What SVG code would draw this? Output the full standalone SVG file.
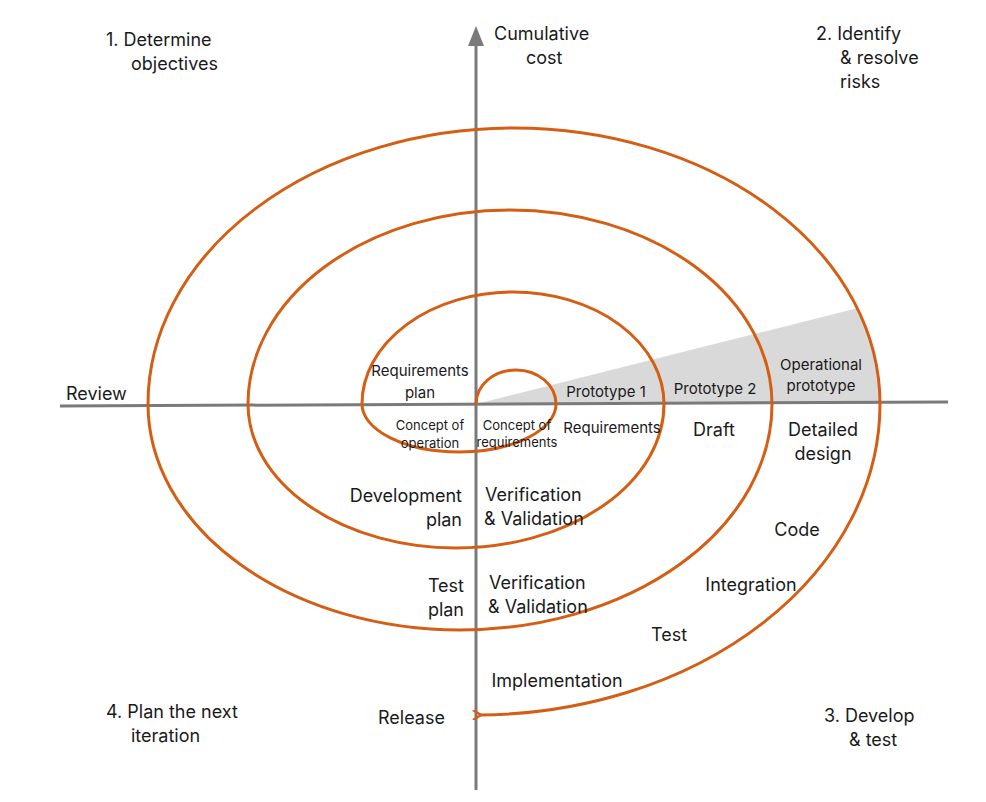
<svg xmlns="http://www.w3.org/2000/svg" width="986" height="802" viewBox="0 0 986 802">
<style>
text{font-family:Inter,"Liberation Sans",sans-serif;font-size:18px;fill:#1a1a1a}
.s{font-size:15px}
.xs{font-size:13px}
.ax{stroke:#7a7a7a;stroke-width:3;fill:none}
.sp{stroke:#d45f14;stroke-width:3;fill:none}
</style>
<defs>
<marker id="ah" markerWidth="10" markerHeight="10" refX="2" refY="5" orient="auto" markerUnits="userSpaceOnUse" viewBox="0 0 10 10">
<path d="M9,0 L1,5 L9,10" fill="none" stroke="#d45f14" stroke-width="2.5"/>
</marker>
</defs>
<rect width="986" height="802" fill="#fff"/>
<path d="M476,404 L858,308 Q872,340 878,372 Q880,388 880,404 Z" fill="#d9d9d9"/>
<g id="axes">
<line class="ax" x1="476" y1="44" x2="476" y2="790"/>
<path d="M468,46 L476,26 L484,46 Z" fill="#7a7a7a"/>
<line class="ax" x1="60" y1="406" x2="948" y2="402"/>
</g>
<g id="connectors">
<path class="sp" d="M476,404 A40,34 0 0 1 556,404 A97,48 0 0 1 362,404 A151,112 0 0 1 664,404 A208,144 0 0 1 248,404 A262,194 0 0 1 772,404 A312,226 0 0 1 148,404 A366,276 0 0 1 880,404 A404,311 0 0 1 480,715" marker-end="url(#ah)"/>
</g>
<g id="labels">
<text x="106" y="46">1. Determine</text><text x="131" y="70">objectives</text>
<text x="816" y="40">2. Identify</text><text x="840" y="64">&amp; resolve</text><text x="840" y="88">risks</text>
<text x="106" y="718">4. Plan the next</text><text x="131" y="742">iteration</text>
<text x="824" y="722">3. Develop</text><text x="849" y="746">&amp; test</text>
<text x="494" y="40">Cumulative</text><text x="526" y="64">cost</text>
<text x="66" y="400">Review</text>
<text x="378" y="724">Release</text>
<text class="s" x="420" y="376" text-anchor="middle">Requirements</text><text class="s" x="420" y="398" text-anchor="middle">plan</text>
<text class="xs" x="430" y="430" text-anchor="middle">Concept of</text><text class="xs" x="430" y="448" text-anchor="middle">operation</text>
<text class="xs" x="517" y="430" text-anchor="middle">Concept of</text><text class="xs" x="517" y="447" text-anchor="middle">requirements</text>
<text class="s" x="606" y="397" text-anchor="middle">Prototype 1</text>
<text class="s" x="715" y="394" text-anchor="middle">Prototype 2</text>
<text class="s" x="821" y="370" text-anchor="middle">Operational</text><text class="s" x="821" y="391" text-anchor="middle">prototype</text>
<text class="s" x="612" y="433" text-anchor="middle">Requirements</text>
<text x="714" y="436" text-anchor="middle">Draft</text>
<text x="823" y="436" text-anchor="middle">Detailed</text><text x="823" y="460" text-anchor="middle">design</text>
<text x="462" y="502" text-anchor="end">Development</text><text x="462" y="526" text-anchor="end">plan</text>
<text x="485" y="501">Verification</text><text x="484" y="525">&amp; Validation</text>
<text x="464" y="592" text-anchor="end">Test</text><text x="464" y="616" text-anchor="end">plan</text>
<text x="489" y="589">Verification</text><text x="488" y="613">&amp; Validation</text>
<text x="797" y="536" text-anchor="middle">Code</text>
<text x="751" y="591" text-anchor="middle">Integration</text>
<text x="669" y="641" text-anchor="middle">Test</text>
<text x="557" y="687" text-anchor="middle">Implementation</text>
</g>
</svg>
